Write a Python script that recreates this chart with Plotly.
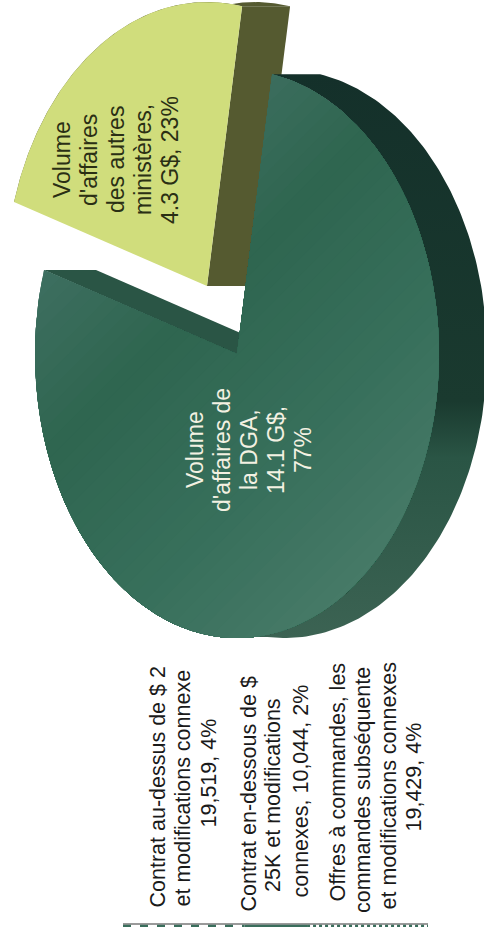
import numpy as np
import plotly.graph_objects as go

# Contract volume split shown on the pie
pie_labels = ["Volume d'affaires de la DGA", "Volume d'affaires des autres ministères"]
pie_amounts_gd = [14.1, 4.3]
pie_shares = [77, 23]

# Contract counts shown on the stacked strip underneath
strip_categories = ["Contrat au-dessus de $ 25K", "Contrat en-dessous de $ 25K", "Offres à commandes"]
strip_counts = [19519, 10044, 19429]

# Wrapped text columns: (text, column x, baseline y of the rotated text)
pie_text_dga = ["Volume", "d'affaires de", "la DGA,", "14.1 G$,", "77%"]
pie_text_other = ["Volume", "d'affaires", "des autres", "ministères,", "4.3 G$, 23%"]
strip_text = [
    ("Contrat au-dessus de $ 2", 157, 908),
    ("et modifications connexe", 182, 907),
    ("19,519, 4%", 208, 828),
    ("Contrat en-dessous de $", 248, 912),
    ("25K et modifications", 273, 892),
    ("connexes, 10,044, 2%", 300, 898),
    ("Offres à commandes, les", 337, 902),
    ("commandes subséquente", 363, 913),
    ("et modifications connexes", 388, 910),
    ("19,429, 4%", 413, 832),
]

CX, CY = 237.0, 354.0       # centre of the tilted pie
RX, RY = 202.0, 284.0       # ellipse radii
DEPTH = 48.0                # extrusion of the disc along +x
START_DEG = 10.0            # clockwise from the top, where the DGA slice begins
EXPLODE = (-30.0, -68.0)    # offset of the detached slice

sweep = [s / sum(pie_shares) * 360.0 for s in pie_shares]


def arc(t0, t1, cx=CX, cy=CY, n=160):
    t = np.radians(np.linspace(t0, t1, n))
    return cx + RX * np.sin(t), cy - RY * np.cos(t)


def wedge(t0, t1, cx=CX, cy=CY):
    x, y = arc(t0, t1, cx, cy)
    return np.r_[cx, x, cx], np.r_[cy, y, cy]


def keep_beyond(px, py, ux, uy, level):
    """Clip a closed polygon to the half-plane x*ux + y*uy >= level."""
    ox, oy = [], []
    s = px * ux + py * uy - level
    for i in range(len(px) - 1):
        if s[i] >= 0:
            ox.append(px[i]); oy.append(py[i])
        if s[i] * s[i + 1] < 0:
            k = s[i] / (s[i] - s[i + 1])
            ox.append(px[i] + k * (px[i + 1] - px[i]))
            oy.append(py[i] + k * (py[i + 1] - py[i]))
    if ox:
        ox.append(ox[0]); oy.append(oy[0])
    return np.array(ox), np.array(oy)


def hex_mix(stops, v):
    lv = [a for a, _ in stops]
    rgb = [[int(c[i:i + 2], 16) for i in (1, 3, 5)] for _, c in stops]
    return "rgb(%d,%d,%d)" % tuple(np.interp(v, lv, [c[j] for c in rgb]) for j in range(3))


def poly(x, y, color=None, **kw):
    return go.Scatter(x=x, y=y, mode="lines", fill="toself", fillcolor=color,
                      line=dict(width=0), hoverinfo="skip", showlegend=False, **kw)


fig = go.Figure()

# Detached slice: rim first, then its face
t_other0 = START_DEG + sweep[0]
t_other1 = t_other0 + sweep[1]
ox, oy = CX + EXPLODE[0], CY + EXPLODE[1]
ax, ay = arc(t_other0, t_other1, ox, oy)
fx, fy = wedge(t_other0, t_other1, ox, oy)
fig.add_trace(poly(np.r_[ax, ax[::-1] + DEPTH], np.r_[ay, ay[::-1]], "#555a30"))
fig.add_trace(poly(np.r_[ox, ax[-1], ax[-1] + DEPTH, ox + DEPTH, ox],
                   np.r_[oy, ay[-1], ay[-1], oy, oy], "#555a30"))
fig.add_trace(poly(fx, fy, "#d0dd7c"))

# Main slice: the cut wall facing the gap
ex, ey = arc(t_other0, t_other0, n=1)
fig.add_trace(poly([CX, ex[0], ex[0] + DEPTH + 4, CX + DEPTH + 4, CX],
                   [CY, ey[0], ey[0], CY, CY], "#2a5545"))

# Main slice: outer rim, shaded from dark at the top to lighter at the bottom
rx, ry = arc(START_DEG, 185)
fig.add_trace(poly(np.r_[rx, rx[::-1] + DEPTH], np.r_[ry, ry[::-1]],
                   fillgradient=dict(type="vertical", start=72, stop=640,
                                     colorscale=[[0, "#14302a"], [0.58, "#1a3a2f"],
                                                 [0.68, "#2a5545"], [1, "#3c6353"]])))

# Main slice: face with a diagonal sheen, painted as nested clipped polygons
face_stops = [(215, "#3e6f61"), (350, "#2f6650"), (520, "#38705c"), (700, "#4b7d6b")]
ux, uy = 0.7071, 0.7071
mx, my = wedge(START_DEG, START_DEG + sweep[0])
levels = np.arange(215, 705, 12)
fig.add_trace(poly(mx, my, hex_mix(face_stops, 215)))
for lev in levels:
    bx, by = keep_beyond(mx, my, ux, uy, lev)
    if len(bx) > 2:
        fig.add_trace(poly(bx, by, hex_mix(face_stops, lev)))

# Stacked strip below the pie, scaled from the counts
strip_scale = 305.0 / sum(strip_counts)
left = 123.0 + np.r_[0, np.cumsum(strip_counts)[:-1]] * strip_scale
right = left + np.array(strip_counts) * strip_scale
fig.add_trace(go.Scatter(x=[left[0], right[-1]], y=[924, 924], mode="lines",
                         line=dict(color="#9a9a9a", width=2), hoverinfo="skip", showlegend=False))
for l, r, dash in zip(left, right, ["8px,9px", "solid", "3px,3px"]):
    fig.add_trace(go.Scatter(x=[l, r], y=[926.2, 926.2], mode="lines",
                             line=dict(color="#3a6e5c", width=3, dash=dash),
                             hoverinfo="skip", showlegend=False))

FONT = "Liberation Sans, Arial, sans-serif"
notes = []
for i, line in enumerate(pie_text_dga):
    notes.append(dict(x=195 + 27 * i, y=450, text=line, font=dict(size=23, color="#f3f1e2", family=FONT),
                      yanchor="middle"))
for i, line in enumerate(pie_text_other):
    notes.append(dict(x=62 + 27 * i, y=160, text=line, font=dict(size=23, color="#2a2f14", family=FONT),
                      yanchor="middle"))
for line, x, y in strip_text:
    notes.append(dict(x=x, y=y, text=line, font=dict(size=21.5, color="#1a1a1a", family=FONT),
                      yanchor="bottom"))
for n in notes:
    n.update(xref="x", yref="y", xanchor="center", textangle=-90, showarrow=False, borderpad=0, borderwidth=0)

fig.update_layout(
    width=484, height=927, margin=dict(l=0, r=0, t=0, b=0),
    paper_bgcolor="white", plot_bgcolor="white", showlegend=False, annotations=notes,
    xaxis=dict(range=[0, 484], visible=False, fixedrange=True),
    yaxis=dict(range=[927, 0], visible=False, fixedrange=True),
)
fig.write_html("out.html", config=dict(displayModeBar=False))
